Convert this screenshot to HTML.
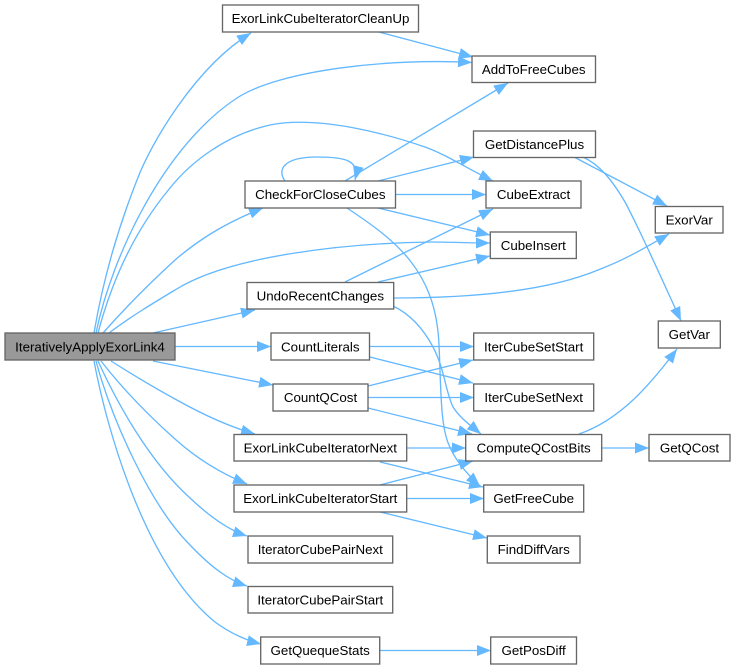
<!DOCTYPE html>
<html><head><meta charset="utf-8"><style>
html,body{margin:0;padding:0;background:#fff;width:735px;height:669px;overflow:hidden}
svg{display:block}
path.e{fill:none;stroke:#63b8ff;stroke-width:1.33;marker-end:url(#a)}
rect{fill:#fff;stroke:#666;stroke-width:1.33}
text{font-family:"Liberation Sans",sans-serif;font-size:13.33px;text-anchor:middle;fill:#000}
</style></head><body>
<svg width="735" height="669" viewBox="0 0 735 669" xmlns="http://www.w3.org/2000/svg">
<defs><marker id="a" markerUnits="userSpaceOnUse" markerWidth="15" markerHeight="13" refX="14" refY="6" orient="auto"><path d="M0,0.500L14,6L0,11.500z" fill="#63b8ff"/></marker></defs>
<path class="e" d="M94,333C103,280 118,228 137,180C150,145 195,67 251,33"/>
<path class="e" d="M96,333C112,255 165,145 237,98C280,70 390,58 472,62.500"/>
<path class="e" d="M98,333C112,280 135,230 170,188C190,163 225,135 270,125C320,115 390,135 425,147C445,154 470,170 493,181"/>
<path class="e" d="M103,333C125,308 150,283 175,260C195,243 220,225 263,208"/>
<path class="e" d="M109,333C130,317 155,302 175,290C230,255 350,243 432,242C450,242 470,243 490,243"/>
<path class="e" d="M153,333L255,310"/>
<path class="e" d="M175,346.500L271,346.500"/>
<path class="e" d="M153,361L273,385"/>
<path class="e" d="M111,361C130,373 153,387 175,399C200,413 230,427 255,434"/>
<path class="e" d="M101,361C122,388 148,415 175,439C195,457 220,473 247,484"/>
<path class="e" d="M98,361C118,405 150,462 190,498C208,515 228,530 247,536"/>
<path class="e" d="M96,361C112,420 150,505 190,545C210,566 228,580 247,586"/>
<path class="e" d="M94,361C107,430 145,565 215,622C230,633 245,640 261,644"/>
<path class="e" d="M285,181C277,170 283,157 317,157C345,157 360,160 355,180"/>
<path class="e" d="M345,181L508,83"/>
<path class="e" d="M378,181L474,157"/>
<path class="e" d="M396,194.500L486,194.500"/>
<path class="e" d="M378,208L490,235"/>
<path class="e" d="M347,208C395,240 436,270 439,345C441,385 440,425 449,445C455,460 468,475 480,486"/>
<path class="e" d="M345,282L493,209"/>
<path class="e" d="M378,282L490,256"/>
<path class="e" d="M394,298C480,298 550,290 598,270C625,260 650,245 669,234"/>
<path class="e" d="M393,306C412,315 425,332 433,347C445,370 445,390 453,407C460,418 470,425 481,434"/>
<path class="e" d="M574,157L667,206"/>
<path class="e" d="M583,157C600,165 612,180 625,202C640,230 660,275 681,321"/>
<path class="e" d="M579,434C620,420 650,385 677,349"/>
<path class="e" d="M602,448L649,448"/>
<path class="e" d="M370,346.500L474,346.500"/>
<path class="e" d="M370,357L473,383"/>
<path class="e" d="M368,386L473,360"/>
<path class="e" d="M368,397.500L474,397.500"/>
<path class="e" d="M368,408L472,434"/>
<path class="e" d="M407,448L466,448"/>
<path class="e" d="M380,462L483,487"/>
<path class="e" d="M380,485L473,461"/>
<path class="e" d="M407,498.500L484,498.500"/>
<path class="e" d="M380,512L487,538"/>
<path class="e" d="M380,650.500L491,650.500"/>
<path class="e" d="M379,32L473,57"/>
<rect x="5" y="333" width="170" height="27" style="fill:#999"/><text x="90" y="351.500">IterativelyApplyExorLink4</text>
<rect x="222.500" y="5" width="196" height="27"/><text x="320.500" y="23">ExorLinkCubeIteratorCleanUp</text>
<rect x="472" y="56" width="123.500" height="26.500"/><text x="533.700" y="74">AddToFreeCubes</text>
<rect x="473.500" y="131" width="122" height="26.500"/><text x="534.500" y="149">GetDistancePlus</text>
<rect x="245" y="181" width="150.500" height="27"/><text x="320.300" y="199">CheckForCloseCubes</text>
<rect x="486" y="181" width="95" height="27"/><text x="533.500" y="199">CubeExtract</text>
<rect x="490.300" y="232" width="86" height="26.500"/><text x="533.300" y="250">CubeInsert</text>
<rect x="655.300" y="206.500" width="67.700" height="26.500"/><text x="689.200" y="224.500">ExorVar</text>
<rect x="658.300" y="321" width="62" height="27"/><text x="689.300" y="339">GetVar</text>
<rect x="247" y="282.500" width="146.700" height="26.500"/><text x="320.300" y="300.500">UndoRecentChanges</text>
<rect x="271" y="333" width="98.500" height="27"/><text x="320.300" y="351.500">CountLiterals</text>
<rect x="473.700" y="333" width="120" height="27"/><text x="533.700" y="351.500">IterCubeSetStart</text>
<rect x="273" y="384" width="95" height="27"/><text x="320.500" y="402">CountQCost</text>
<rect x="473.700" y="384" width="120" height="27"/><text x="533.700" y="402">IterCubeSetNext</text>
<rect x="234" y="434.500" width="172.700" height="26.500"/><text x="320.300" y="452.500">ExorLinkCubeIteratorNext</text>
<rect x="465.700" y="434.500" width="136" height="26.500"/><text x="533.700" y="452.500">ComputeQCostBits</text>
<rect x="649" y="434.500" width="81" height="26.500"/><text x="689.500" y="452.500">GetQCost</text>
<rect x="234" y="485" width="172.700" height="27"/><text x="320.300" y="503">ExorLinkCubeIteratorStart</text>
<rect x="483.700" y="485" width="100" height="27"/><text x="533.700" y="503">GetFreeCube</text>
<rect x="487.300" y="536" width="92.700" height="27"/><text x="533.700" y="554">FindDiffVars</text>
<rect x="248" y="536" width="144.700" height="27"/><text x="320.300" y="554">IteratorCubePairNext</text>
<rect x="248" y="586.500" width="144.700" height="26.500"/><text x="320.300" y="604.500">IteratorCubePairStart</text>
<rect x="260.700" y="637" width="119" height="27"/><text x="320.200" y="655">GetQuequeStats</text>
<rect x="490.700" y="637" width="85.800" height="27"/><text x="533.600" y="655">GetPosDiff</text>
</svg>
</body></html>
